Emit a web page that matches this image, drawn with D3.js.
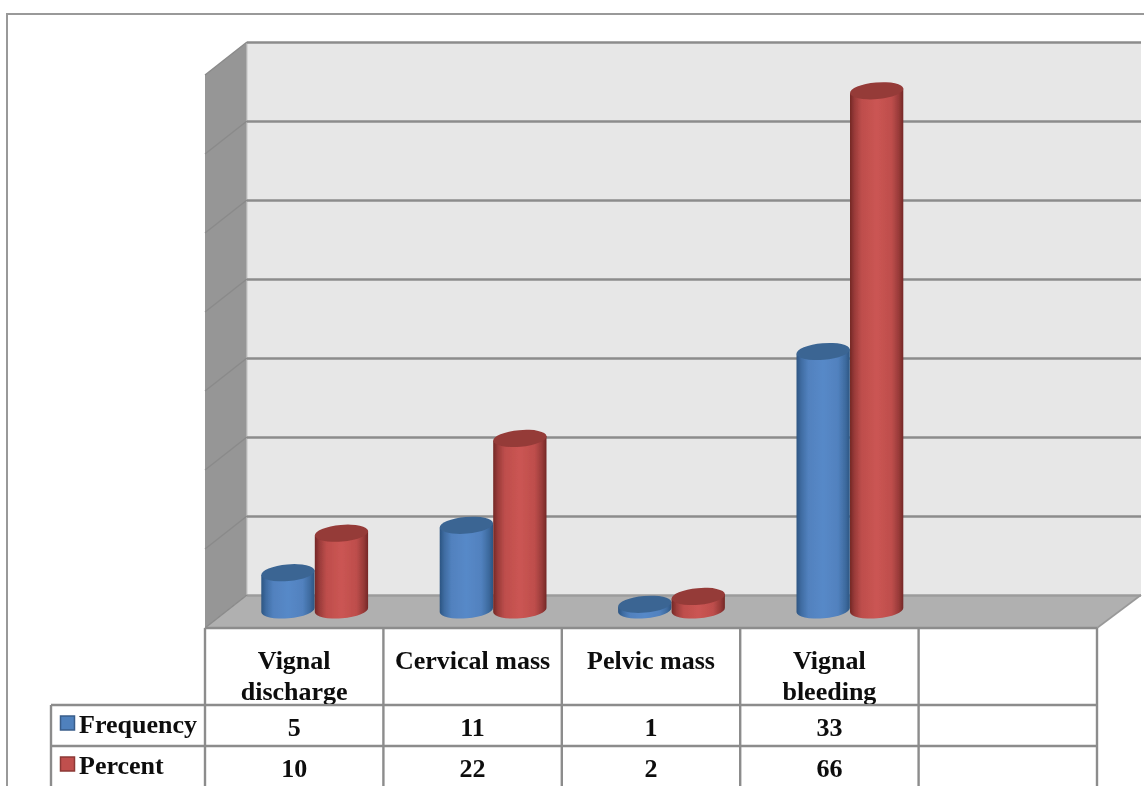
<!DOCTYPE html>
<html>
<head>
<meta charset="utf-8">
<script src="https://cdn.jsdelivr.net/npm/d3@7"></script>
<style>
    html, body { margin: 0; padding: 0; background: #fff; overflow: hidden; }
    svg { display: block; }
    text { font-family: "Liberation Serif", serif; font-weight: bold; fill: #0a0a0a; }
</style>
</head>
<body>
<svg width="1144" height="786"></svg>
<script>
const categories = ["Vignal discharge", "Cervical mass", "Pelvic mass", "Vignal bleeding", ""];
const categoryLines = [["Vignal", "discharge"], ["Cervical mass"], ["Pelvic mass"], ["Vignal", "bleeding"], []];
const seriesNames = ["Frequency", "Percent"];
const frequency = [5, 11, 1, 33, null];
const percent = [10, 22, 2, 66, null];
const gridTicks = [0, 10, 20, 30, 40, 50, 60, 70];

const colors = {
    Frequency: { edge: "#2c5582", mid: "#5789c8", top: "#3b6593", key: "#4f81bd", keyLine: "#385d8a" },
    Percent: { edge: "#742826", mid: "#cb5553", top: "#953a38", key: "#c0504d", keyLine: "#8c3836" }
};
const seriesValues = { Frequency: frequency, Percent: percent };

const svg = d3.select("svg");
const lineCol = "#8c8c8c";

const wallL = 247, wallR = 1141, wallT = 42, wallB = 595;
const frontL = 205, frontR = 1097, frontB = 628;
const depthX = wallL - frontL, depthY = frontB - wallB;

const x = d3.scaleBand().domain(categories).range([frontL, frontR]);
const xInner = d3.scaleBand().domain(seriesNames).range([-53, 54]);
const y = d3.scaleLinear().domain([0, 70]).range([wallB, wallT]);

const defs = svg.append("defs");
defs.append("filter").attr("id", "soft")
    .append("feGaussianBlur").attr("stdDeviation", 0.45);
seriesNames.forEach(name => {
    const c = colors[name];
    const mix = d3.interpolateRgb(c.edge, c.mid);
    defs.append("linearGradient").attr("id", "grad-" + name)
        .selectAll("stop")
        .data([
            { o: "0%", c: c.edge }, { o: "9%", c: mix(0.45) }, { o: "22%", c: mix(0.85) },
            { o: "50%", c: c.mid }, { o: "78%", c: mix(0.85) }, { o: "92%", c: mix(0.4) },
            { o: "100%", c: c.edge }
        ])
        .enter().append("stop")
        .attr("offset", d => d.o)
        .attr("stop-color", d => d.c);
});
// header labels get cut off by the row line, same as the picture
defs.append("clipPath").attr("id", "headClip")
    .append("rect").attr("x", frontL).attr("y", frontB).attr("width", frontR - frontL).attr("height", 76);

const root = svg.append("g").attr("filter", "url(#soft)");

// outer frame
root.append("path")
    .attr("d", "M7,786V14H1144")
    .attr("fill", "none").attr("stroke", "#999").attr("stroke-width", 2);

// walls and floor
root.append("rect").attr("x", wallL).attr("y", wallT)
    .attr("width", wallR - wallL).attr("height", wallB - wallT).attr("fill", "#e7e7e7");
root.append("polygon").attr("fill", "#969696")
    .attr("points", [[frontL, wallT + depthY], [wallL, wallT], [wallL, wallB], [frontL, frontB]].join(" "));
root.append("polygon").attr("fill", "#b0b0b0")
    .attr("points", [[wallL, wallB], [wallR, wallB], [frontR, frontB], [frontL, frontB]].join(" "));
root.append("line").attr("x1", wallL).attr("x2", wallL).attr("y1", wallT).attr("y2", wallB)
    .attr("stroke", "#c8c8c8").attr("stroke-width", 1.2);

// grid lines
const grid = root.append("g")
    .attr("transform", `translate(${wallL},0)`)
    .call(d3.axisLeft(y).tickValues(gridTicks).tickSize(-(wallR - wallL)).tickFormat(""));
grid.select(".domain").remove();
grid.selectAll("line").attr("stroke", d => d === 0 ? "#9c9c9c" : lineCol).attr("stroke-width", 2.4);

root.selectAll("line.side")
    .data(gridTicks)
    .enter().append("line")
    .attr("class", "side")
    .attr("x1", frontL).attr("y1", d => y(d) + depthY)
    .attr("x2", wallL).attr("y2", d => y(d))
    .attr("stroke", "#8a8a8a").attr("stroke-width", 1.4);
root.append("line").attr("x1", wallR).attr("y1", wallB).attr("x2", frontR).attr("y2", frontB)
    .attr("stroke", "#999").attr("stroke-width", 1.6);

// cylinders
const tiltDeg = 5;
const tilt = tiltDeg * Math.PI / 180;
const baseY = 610;
const topShift = 17.2; // bars stand a bit in front of the back wall
const rx = xInner.bandwidth() / 2, ry = 8.3;

function bodyPath(cx, top) {
    const dx = rx * Math.cos(tilt), dy = rx * Math.sin(tilt);
    return `M${cx - dx},${top + dy}L${cx - dx},${baseY + dy}`
        + `A${rx},${ry} ${-tiltDeg} 0 0 ${cx + dx},${baseY - dy}`
        + `L${cx + dx},${top - dy}Z`;
}

seriesNames.forEach(name => {
    const g = root.append("g").attr("class", "series-" + name);
    const rows = categories.map((c, i) => ({ c, v: seriesValues[name][i] })).filter(d => d.v !== null);
    const cx = d => x(d.c) + x.bandwidth() / 2 + depthX / 2 + xInner(name) + rx - 1;

    g.selectAll("path")
        .data(rows)
        .enter().append("path")
        .attr("d", d => bodyPath(cx(d), y(d.v) + topShift))
        .attr("fill", `url(#grad-${name})`);
    g.selectAll("ellipse")
        .data(rows)
        .enter().append("ellipse")
        .attr("rx", rx).attr("ry", ry)
        .attr("transform", d => `translate(${cx(d)},${y(d.v) + topShift}) rotate(${-tiltDeg})`)
        .attr("fill", colors[name].top);
});

// data table
const rowYs = [frontB, 705, 746];
const colXs = categories.map(c => x(c)).concat(frontR);
const table = root.append("g").attr("stroke", lineCol).attr("stroke-width", 2.4);
colXs.forEach(cx => table.append("line").attr("x1", cx).attr("x2", cx).attr("y1", frontB).attr("y2", 786));
rowYs.forEach((ry_, i) => {
    table.append("line").attr("x1", i === 0 ? frontL : 51).attr("x2", frontR).attr("y1", ry_).attr("y2", ry_);
});
table.append("line").attr("x1", 51).attr("x2", 51).attr("y1", 705).attr("y2", 786);

const fontSize = 26;
const head = root.append("g").attr("clip-path", "url(#headClip)")
    .attr("text-anchor", "middle").style("font-size", fontSize + "px");
categories.forEach((c, i) => {
    categoryLines[i].forEach((line, k) => {
        head.append("text")
            .attr("x", x(c) + x.bandwidth() / 2)
            .attr("y", 669 + k * 30.5)
            .text(line);
    });
});

const valueBase = { Frequency: 736, Percent: 777 };
const labelBase = { Frequency: 733, Percent: 774 };
const keyTop = { Frequency: 716, Percent: 757 };
seriesNames.forEach(name => {
    root.append("rect")
        .attr("x", 60.5).attr("y", keyTop[name]).attr("width", 14).attr("height", 14)
        .attr("fill", colors[name].key).attr("stroke", colors[name].keyLine).attr("stroke-width", 1.5);
    root.append("text")
        .attr("x", 79).attr("y", labelBase[name])
        .style("font-size", fontSize + "px")
        .text(name);
    root.selectAll("text.v-" + name)
        .data(categories.map((c, i) => ({ c, v: seriesValues[name][i] })).filter(d => d.v !== null))
        .enter().append("text")
        .attr("class", "v-" + name)
        .attr("x", d => x(d.c) + x.bandwidth() / 2)
        .attr("y", valueBase[name])
        .attr("text-anchor", "middle")
        .style("font-size", fontSize + "px")
        .text(d => d.v);
});
</script>
</body>
</html>
